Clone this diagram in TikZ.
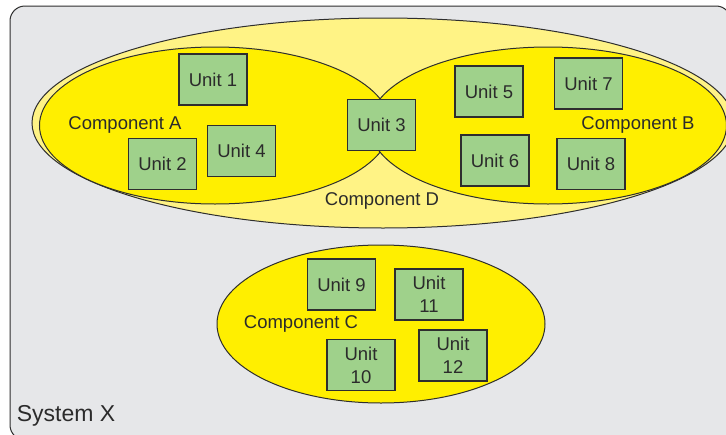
\documentclass[tikz,border=0pt]{standalone}
\usepackage{fontspec}
\setmainfont{Liberation Sans}
\usetikzlibrary{shapes.geometric}
\definecolor{bggray}{HTML}{E6E7E9}
\definecolor{paleyel}{HTML}{FFF385}
\definecolor{yel}{HTML}{FFEF00}
\definecolor{ugreen}{HTML}{9FD18B}
\definecolor{lin}{HTML}{2E2E2E}
\definecolor{txt}{HTML}{2B2B2B}
\tikzset{
  unitbox/.style={draw=lin, line width=1.1pt, fill=ugreen, minimum width=68pt, minimum height=51pt, inner sep=0pt, align=center, text=txt},
  comp/.style={ellipse, draw=lin, line width=1pt, inner sep=0pt},
  lbl/.style={text=txt, inner sep=0pt}
}
\begin{document}
\begin{tikzpicture}[x=1pt,y=-1pt, font=\fontsize{18.5}{23}\selectfont]
\useasboundingbox (0,0) rectangle (726,434);
\clip (0,0) rectangle (726,434);
\fill[white] (0,0) rectangle (726,434);
\draw[draw=lin, line width=1pt, fill=bggray, rounded corners=15pt] (10,6) rectangle (731,440);
\node[comp, fill=paleyel, minimum width=702pt, minimum height=210pt] (compD) at (383,123) {};
\node[comp, fill=yel, minimum width=351pt, minimum height=157pt] (compA) at (215,125.5) {};
\node[comp, fill=yel, minimum width=357pt, minimum height=157pt] (compB) at (548,125.5) {};
\node[comp, fill=yel, minimum width=328pt, minimum height=158pt] (compC) at (381,324) {};
\node[lbl] (labA) at (125,125) {Component A};
\node[lbl] (labB) at (638,125) {Component B};
\node[lbl] (labD) at (382,201) {Component D};
\node[lbl] (labC) at (301,324) {Component C};
\node[lbl, font=\fontsize{23}{27}\selectfont] (labX) at (66,416) {System X};
\node[unitbox] (u1) at (213,79.5) {Unit 1};
\node[unitbox] (u2) at (162.5,164) {Unit 2};
\node[unitbox] (u3) at (381.5,125) {Unit 3};
\node[unitbox] (u4) at (241.5,151) {Unit 4};
\node[unitbox] (u5) at (489,91.5) {Unit 5};
\node[unitbox] (u6) at (495,160.5) {Unit 6};
\node[unitbox] (u7) at (588.5,83.5) {Unit 7};
\node[unitbox] (u8) at (591,164) {Unit 8};
\node[unitbox] (u9) at (341.5,284.5) {Unit 9};
\node[unitbox] (u10) at (361,365) {Unit\\10};
\node[unitbox] (u11) at (429,294.5) {Unit\\11};
\node[unitbox] (u12) at (453,355.5) {Unit\\12};
\end{tikzpicture}
\end{document}
